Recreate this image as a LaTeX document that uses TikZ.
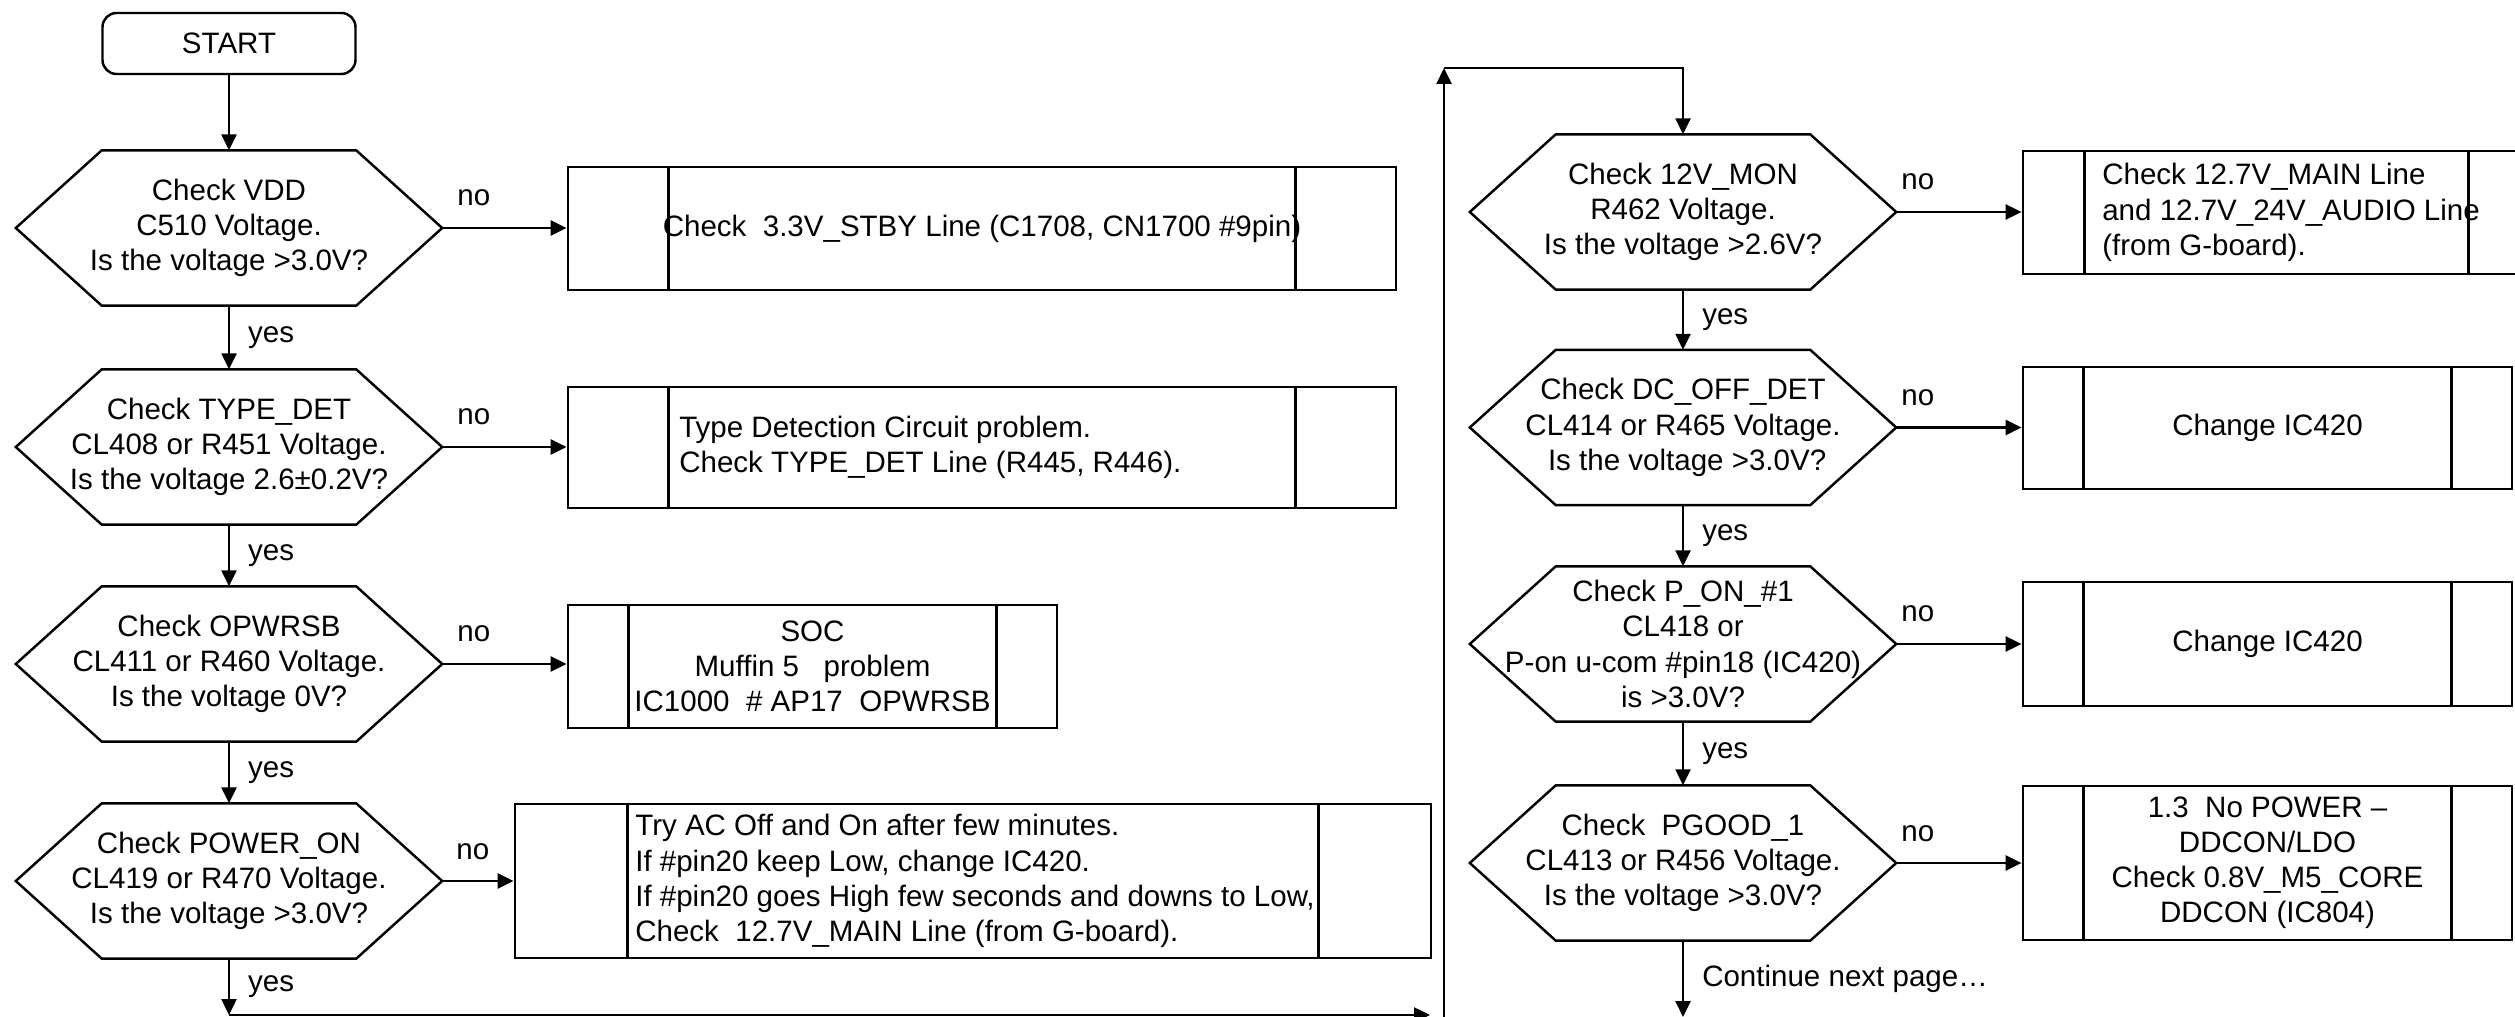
\documentclass[tikz,border=0pt]{standalone}
\usepackage{fontspec}
\setmainfont{Liberation Sans}
\usetikzlibrary{positioning, arrows.meta}

\begin{document}
\begin{tikzpicture}[
  txt/.style={font=\fontsize{8.4}{10}\selectfont},
  terminal/.style={txt, draw, rounded corners=4pt, minimum width=2.53cm,
                   minimum height=0.61cm, line width=0.7pt},
  decision/.style={txt, minimum width=4.25cm, minimum height=1.54cm,
                   inner sep=0pt, align=center},
  hexline/.style={line width=0.7pt, line join=miter},
  process/.style={txt, draw, line width=0.8pt, minimum height=1.23cm,
                  inner sep=0pt, align=center},
  note/.style={txt, inner sep=0pt, align=left, anchor=west},
  flow/.style={-{Triangle[length=0.16cm, width=0.15cm]}, line width=0.7pt},
  nolbl/.style={txt, anchor=base west, pos=0, inner sep=0pt, yshift=0.22cm},
  yeslbl/.style={txt, anchor=west, midway, inner sep=0pt, xshift=0.18cm},
]
  \useasboundingbox (0,0) rectangle (25.15,-10.17);

  % Left column
  \node[terminal] (start) at (2.29,-0.435) {START};
  \node[decision] (d1) at (2.29,-2.28) {Check VDD\\C510 Voltage.\\Is the voltage >3.0V?};
  \node[decision] (d2) at (2.29,-4.47) {Check TYPE\_DET\\CL408 or R451 Voltage.\\Is the voltage 2.6±0.2V?};
  \node[decision] (d3) at (2.29,-6.64) {Check OPWRSB\\CL411 or R460 Voltage.\\Is the voltage 0V?};
  \node[decision] (d4) at (2.29,-8.81) {Check POWER\_ON\\CL419 or R470 Voltage.\\Is the voltage >3.0V?};

  \node[process, minimum width=8.28cm] (b1) at (9.82,-2.285)
    {Check~~3.3V\_STBY Line (C1708, CN1700 \#9pin)};
  \node[process, minimum width=8.28cm, minimum height=1.21cm] (b2) at (9.82,-4.475) {};
  \node[note] (b2t) at ([xshift=1.12cm]b2.west)
    {Type Detection Circuit problem.\\Check TYPE\_DET Line (R445, R446).};
  \node[process, minimum width=4.89cm] (b3) at (8.125,-6.665)
    {SOC\\Muffin 5~~~problem\\IC1000~~\# AP17~~OPWRSB};
  \node[process, minimum width=9.16cm, minimum height=1.54cm] (b4) at (9.73,-8.81) {};
  \node[note] (b4t) at ([xshift=1.21cm]b4.west)
    {Try AC Off and On after few minutes.\\If \#pin20 keep Low, change IC420.\\If \#pin20 goes High few seconds and downs to Low,\\Check~~12.7V\_MAIN Line (from G-board).};

  % Right column
  \node[decision] (d5) at (16.83,-2.12) {Check 12V\_MON\\R462 Voltage.\\Is the voltage >2.6V?};
  \node[decision] (d6) at (16.83,-4.275) {Check DC\_OFF\_DET\\CL414 or R465 Voltage.\\~Is the voltage >3.0V?};
  \node[decision] (d7) at (16.83,-6.44) {Check P\_ON\_\#1\\CL418 or\\P-on u-com \#pin18 (IC420)\\is >3.0V?};
  \node[decision] (d8) at (16.83,-8.63) {Check~~PGOOD\_1\\CL413 or R456 Voltage.\\Is the voltage >3.0V?};

  \node[process, minimum width=5.07cm] (b5) at (22.765,-2.125) {};
  \node[note] (b5t) at ([xshift=0.80cm]b5.west)
    {Check 12.7V\_MAIN Line\\and 12.7V\_24V\_AUDIO Line\\(from G-board).};
  \node[process, minimum width=4.89cm, minimum height=1.22cm] (b6) at (22.675,-4.28) {Change IC420};
  \node[process, minimum width=4.89cm, minimum height=1.24cm] (b7) at (22.675,-6.44) {Change IC420};
  \node[process, minimum width=4.89cm, minimum height=1.54cm] (b8) at (22.675,-8.63)
    {1.3~~No POWER –\\DDCON/LDO\\Check 0.8V\_M5\_CORE\\DDCON (IC804)};

  % Hexagon outlines
  \foreach \n in {d1, d2, d3, d4, d5, d6, d7, d8} {
    \draw[hexline] (\n.west) -- ([xshift=0.86cm]\n.north west) -- ([xshift=-0.86cm]\n.north east)
      -- (\n.east) -- ([xshift=-0.86cm]\n.south east) -- ([xshift=0.86cm]\n.south west) -- cycle;
  }

  % Side bars of the process boxes
  \foreach \n/\g in {b1/1.02, b2/1.02, b3/0.62, b4/1.14, b5/0.63, b6/0.62, b7/0.62, b8/0.62} {
    \draw[line width=0.7pt] ([xshift=\g cm]\n.north west) -- ([xshift=\g cm]\n.south west);
    \draw[line width=0.7pt] ([xshift=-\g cm]\n.north east) -- ([xshift=-\g cm]\n.south east);
  }

  % Loop points
  \coordinate (bend1) at (2.29,-10.15);
  \coordinate (bend2) at (14.30,-10.15);
  \coordinate (riseA) at (14.44,-10.17);
  \coordinate (riseB) at (14.44,-0.68);
  \coordinate (cont) at (16.83,-10.17);

  % Yes path
  \draw[flow] (start) -- (d1);
  \foreach \a/\b in {d1/d2, d2/d3, d3/d4, d5/d6, d6/d7, d7/d8} {
    \draw[flow] (\a) -- node[yeslbl] {yes} (\b);
  }
  \draw[flow] (d4) -- node[yeslbl] {yes} (bend1);
  \draw[flow] (bend1) -- (bend2);
  \draw[flow] (riseA) -- (riseB);
  \draw[flow] (riseB) -| (d5);
  \draw[flow] (d8) -- node[yeslbl] {Continue next page…} (cont);

  % No path
  \foreach \a/\b/\s in {d1/b1/0.14, d2/b2/0.14, d3/b3/0.14, d4/b4/0.13,
                        d5/b5/0.04, d6/b6/0.04, d7/b7/0.04, d8/b8/0.04} {
    \draw[flow] (\a.east) -- node[nolbl, xshift=\s cm] {no} (\b.west |- \a.east);
  }
\end{tikzpicture}
\end{document}
